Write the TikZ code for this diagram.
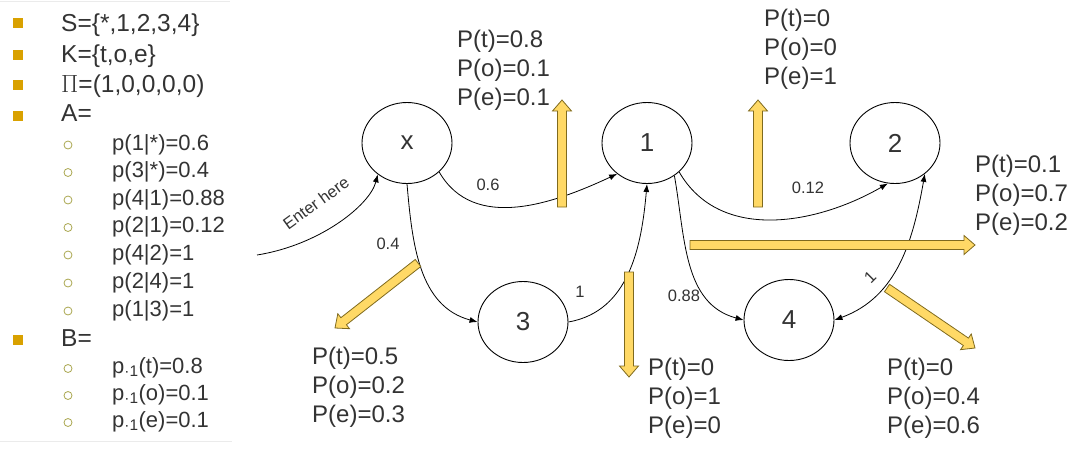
\documentclass[tikz,border=0pt]{standalone}
\usepackage{fontspec}
\setmainfont{Liberation Sans}
\usetikzlibrary{arrows.meta,calc,shapes.geometric}
\definecolor{fatfill}{HTML}{FFD966}
\definecolor{fatdraw}{HTML}{7F6A1E}
\definecolor{bulletsq}{HTML}{D9A100}
\definecolor{bulletci}{HTML}{A9A64E}
\definecolor{txt}{HTML}{333333}
\definecolor{rule}{HTML}{EBEBEB}
\newcommand\fatarrow[2]{%
  \coordinate (tmph) at ($(#2)!11pt!(#1)$);
  \draw[fat] ($(#1)!4.5pt!90:(#2)$)
    -- ($(tmph)!4.5pt!-90:(#1)$)
    -- ($(tmph)!9.5pt!-90:(#1)$)
    -- (#2)
    -- ($(tmph)!9.5pt!90:(#1)$)
    -- ($(tmph)!4.5pt!90:(#1)$)
    -- ($(#1)!4.5pt!-90:(#2)$) -- cycle;}
\begin{document}
\begin{tikzpicture}[x=1pt,y=1pt,
  state/.style={ellipse,draw,line width=0.9pt,minimum width=90pt,minimum height=81pt,inner sep=0pt,font=\fontsize{26}{30}\selectfont,text=txt},
  conn/.style={line width=0.8pt,-{Latex[length=8pt,width=6pt]}},
  elabel/.style={font=\fontsize{16.5}{18}\selectfont,text=txt,inner sep=0pt},
  emis/.style={anchor=north west,align=left,inner sep=0pt,font=\fontsize{24}{29}\selectfont,text=txt},
  fat/.style={fill=fatfill,draw=fatdraw,line width=0.8pt,line join=miter},
  mainitem/.style={anchor=base west,inner sep=0pt,font=\fontsize{24.5}{28}\selectfont,text=txt},
  subitem/.style={anchor=base west,inner sep=0pt,font=\fontsize{22}{26}\selectfont,text=txt},
  sq/.style={fill=bulletsq,draw=none,minimum size=10pt,inner sep=0pt},
  ci/.style={circle,draw=bulletci,line width=0.8pt,minimum size=8pt,inner sep=0pt}
]
\useasboundingbox (0,0) rectangle (1080,-448);
% faint rules
\draw[rule,line width=0.8pt] (0,-1) -- (230,-1);
\draw[rule,line width=0.8pt] (0,-441) -- (232,-441);
% left list
\node[sq] (b1) at (17.5,-23) {};
\node[mainitem] (t1) at (61,-31) {S=\{*,1,2,3,4\}};
\node[sq] (b2) at (17.5,-55) {};
\node[mainitem] (t2) at (61,-62) {K=\{t,o,e\}};
\node[sq] (b3) at (17.5,-85) {};
\node[mainitem] (t3) at (61,-92.5) {$\Pi$=(1,0,0,0,0)};
\node[sq] (b4) at (17.5,-116) {};
\node[mainitem] (t4) at (61,-121) {A=};
\foreach \yy/\tt [count=\i] in {150/{p(1|*)=0.6},177.5/{p(3|*)=0.4},205/{p(4|1)=0.88},232.5/{p(2|1)=0.12},260/{p(4|2)=1},288/{p(2|4)=1},316/{p(1|3)=1}}{
  \node[ci] (ca\i) at (68,-\yy+5) {};
  \node[subitem] (sa\i) at (112,-\yy) {\tt};
}
\node[sq] (b5) at (17.5,-339.5) {};
\node[mainitem] (t5) at (61,-346) {B=};
\foreach \yy/\tt [count=\i] in {373/{p\textsubscript{·1}(t)=0.8},400/{p\textsubscript{·1}(o)=0.1},427/{p\textsubscript{·1}(e)=0.1}}{
  \node[ci] (cb\i) at (68,-\yy+4.5) {};
  \node[subitem] (sb\i) at (112,-\yy) {\tt};
}
% states
\node[state] (x) at (407,-143) {x};
\node[state] (n1) at (647,-143) {1};
\node[state] (n2) at (895,-143) {2};
\node[state] (n3) at (523,-322) {3};
\node[state] (n4) at (789,-320) {4};
% connectors
\coordinate (enter) at (257,-255);
\draw[conn] (enter) .. controls (320,-245) and (370,-205) .. (x.-133);
\node[elabel,rotate=36] (lenter) at (316,-203) {Enter here};
\draw[conn] (x.-42) to[out=-60,in=-155] (n1.-134);
\node[elabel] (l06) at (488,-185) {0.6};
\draw[conn] (x.south) to[out=-85,in=165] (n3.west);
\node[elabel] (l04) at (388,-244) {0.4};
\draw[conn] (n3.east) to[out=10,in=-95] (n1.south);
\node[elabel] (l31) at (580,-292) {1};
\draw[conn] (n1.-42) to[out=-60,in=-150] (n2.-100);
\node[elabel] (l012) at (808,-188) {0.12};
\draw[conn] (n1.-50) to[out=-80,in=165] (n4.west);
\node[elabel] (l088) at (684,-296) {0.88};
\draw[line width=0.8pt,{Latex[length=8pt,width=6pt]}-{Latex[length=8pt,width=6pt]}] (n4.east) to[out=20,in=-100] (n2.-46);
\node[elabel,rotate=45] (l42) at (870,-277) {1};
% fat arrows
\coordinate (a1s) at (562,-207); \coordinate (a1e) at (562,-100);
\coordinate (a2s) at (758,-207); \coordinate (a2e) at (758,-100);
\coordinate (a3s) at (629,-272); \coordinate (a3e) at (629,-377);
\coordinate (a4s) at (418,-263); \coordinate (a4e) at (335,-328);
\coordinate (a5s) at (690,-245); \coordinate (a5e) at (975,-245);
\coordinate (a6s) at (887,-288); \coordinate (a6e) at (975,-348);
\fatarrow{a1s}{a1e}
\fatarrow{a2s}{a2e}
\fatarrow{a3s}{a3e}
\fatarrow{a4s}{a4e}
\fatarrow{a5s}{a5e}
\fatarrow{a6s}{a6e}
% emission texts
\node[emis] (e1) at (457,-30) {P(t)=0.8\\P(o)=0.1\\P(e)=0.1};
\node[emis] (e2) at (764,-9) {P(t)=0\\P(o)=0\\P(e)=1};
\node[emis] (e3) at (975,-155) {P(t)=0.1\\P(o)=0.7\\P(e)=0.2};
\node[emis] (e4) at (312,-347) {P(t)=0.5\\P(o)=0.2\\P(e)=0.3};
\node[emis] (e5) at (648,-358) {P(t)=0\\P(o)=1\\P(e)=0};
\node[emis] (e6) at (887,-358) {P(t)=0\\P(o)=0.4\\P(e)=0.6};
\end{tikzpicture}
\end{document}
